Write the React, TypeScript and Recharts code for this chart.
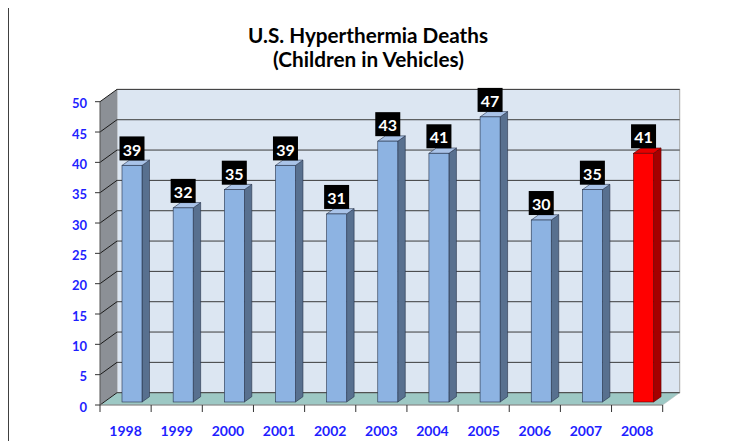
import React from 'react'
import { BarChart, Bar, XAxis, YAxis, CartesianGrid, ReferenceArea, LabelList } from 'recharts'

const years = ['1998', '1999', '2000', '2001', '2002', '2003', '2004', '2005', '2006', '2007', '2008']
const deaths = [39, 32, 35, 39, 31, 43, 41, 47, 30, 35, 41]
const yTicks = [0, 5, 10, 15, 20, 25, 30, 35, 40, 45, 50]
const highlightYear = '2008'
const titleLines = ['U.S. Hyperthermia Deaths', '(Children in Vehicles)']

const data = years.map((year, i) => ({ year, deaths: deaths[i] }))

// depth of the 3d box and of each bar
const DX = 17
const DY = 12.3
const BAR_SHIFT_X = 6
const BAR_SHIFT_Y = 3
const BAR_DX = 7.5
const BAR_DY = 5.3

const FONT = 'Lato, "Noto Sans", sans-serif'
const AXIS_BLUE = '#1f1fff'

function Walls(props: any) {
  const { x, y, width, height } = props
  const b = y + height
  return (
    <g>
      <rect x={x + DX} y={y - DY} width={width} height={height} fill="#dce6f2" stroke="#a6a6a6" />
      <polygon points={`${x},${y} ${x + DX},${y - DY} ${x + DX},${b - DY} ${x},${b}`} fill="#8c9096" />
      <polygon points={`${x},${b} ${x + width},${b} ${x + width + DX},${b - DY} ${x + DX},${b - DY}`} fill="#9dc8c4" stroke="#bcbcbc" strokeWidth={0.5} />
    </g>
  )
}

function GridLine(p: any) {
  const { x1, x2, y1 } = p
  return (
    <g key={p.key}>
      <line x1={x1 + DX} y1={y1 - DY} x2={x2 + DX} y2={y1 - DY} stroke="#3a3a3a" strokeWidth={1} />
      <line x1={x1} y1={y1} x2={x1 + DX} y2={y1 - DY} stroke="#1a1a1a" strokeWidth={1} />
    </g>
  )
}

function YTick(props: any) {
  const { x, y, payload } = props
  return (
    <g>
      <line x1={x - 5} y1={y} x2={x} y2={y} stroke="#333" />
      <text x={x - 13} y={y + 6.5} textAnchor="end" fill={AXIS_BLUE} fontFamily={FONT} fontWeight="bold" fontSize={13}>
        {payload.value}
      </text>
    </g>
  )
}

function XTick(props: any) {
  const { x, y, payload } = props
  const half = payload.offset ?? 25.6
  const last = payload.value === years[years.length - 1]
  return (
    <g>
      <line x1={x - half} y1={y} x2={x - half} y2={y + 7} stroke="#333" />
      {last && <line x1={x + half} y1={y} x2={x + half} y2={y + 7} stroke="#333" />}
      <text x={x} y={y + 30.5} textAnchor="middle" fill={AXIS_BLUE} fontFamily={FONT} fontWeight="bold" fontSize={14}>
        {payload.value}
      </text>
    </g>
  )
}

function Bar3D(props: any) {
  const { x, y, width, height, payload } = props
  const red = payload.year === highlightYear
  const front = red ? '#ff0000' : '#8db3e2'
  const side = red ? '#a50000' : '#58708f'
  const top = red ? '#e60000' : '#a9c3e8'
  const edge = red ? '#5a0000' : '#26334a'
  const fx = x + BAR_SHIFT_X
  const fy = y - BAR_SHIFT_Y
  const r = fx + width
  const b = fy + height
  return (
    <g>
      <polygon points={`${r},${fy} ${r + BAR_DX},${fy - BAR_DY} ${r + BAR_DX},${b - BAR_DY} ${r},${b}`} fill={side} stroke={edge} strokeWidth={0.6} />
      <polygon points={`${fx},${fy} ${fx + BAR_DX},${fy - BAR_DY} ${r + BAR_DX},${fy - BAR_DY} ${r},${fy}`} fill={top} stroke={edge} strokeWidth={0.6} />
      <rect x={fx} y={fy} width={width} height={height} fill={front} stroke={edge} strokeWidth={0.6} />
    </g>
  )
}

function BoxLabel(props: any) {
  const { x, y, width, value } = props
  const cx = x + width / 2 + BAR_SHIFT_X
  const bottom = y - 8
  return (
    <g>
      <rect x={cx - 12.5} y={bottom - 24} width={25} height={24} fill="#000" />
      <text x={cx} y={bottom - 4.8} textAnchor="middle" fill="#fff" fontFamily={FONT} fontWeight="bold" fontSize={16}>
        {value}
      </text>
    </g>
  )
}

export default function App() {
  return (
    <div
      style={{
        position: 'relative',
        width: 725,
        height: 433,
        marginTop: -1,
        borderLeft: '1px solid #404040',
        borderTop: '1px solid #404040',
      }}
    >
      <svg width={725} height={80} style={{ position: 'absolute', left: 0, top: 0 }}>
        <text x={359} y={35} textAnchor="middle" fontFamily={FONT} fontWeight="bold" fontSize={20} fill="#000" textLength={240} lengthAdjust="spacingAndGlyphs">
          {titleLines[0]}
        </text>
        <text x={359.5} y={59} textAnchor="middle" fontFamily={FONT} fontWeight="bold" fontSize={20} fill="#000" textLength={191} lengthAdjust="spacingAndGlyphs">
          {titleLines[1]}
        </text>
      </svg>
      <BarChart width={725} height={433} data={data} margin={{ top: 93.7, right: 71.3, bottom: 0, left: 0 }} barSize={20}>
        <ReferenceArea y1={0} y2={50} shape={Walls} zIndex={-200} ifOverflow="visible" />
        <CartesianGrid vertical={false} horizontal={GridLine} />
        <XAxis
          dataKey="year"
          height={36}
          interval={0}
          tickSize={0}
          tickMargin={0}
          tick={XTick}
          axisLine={{ stroke: '#7f7f7f' }}
          tickLine={false}
        />
        <YAxis
          width={91}
          domain={[0, 50]}
          ticks={yTicks}
          interval={0}
          tickSize={0}
          tickMargin={0}
          tick={YTick}
          axisLine={{ stroke: '#555' }}
          tickLine={false}
        />
        <Bar dataKey="deaths" shape={Bar3D} isAnimationActive={false}>
          <LabelList dataKey="deaths" content={BoxLabel} />
        </Bar>
      </BarChart>
    </div>
  )
}
